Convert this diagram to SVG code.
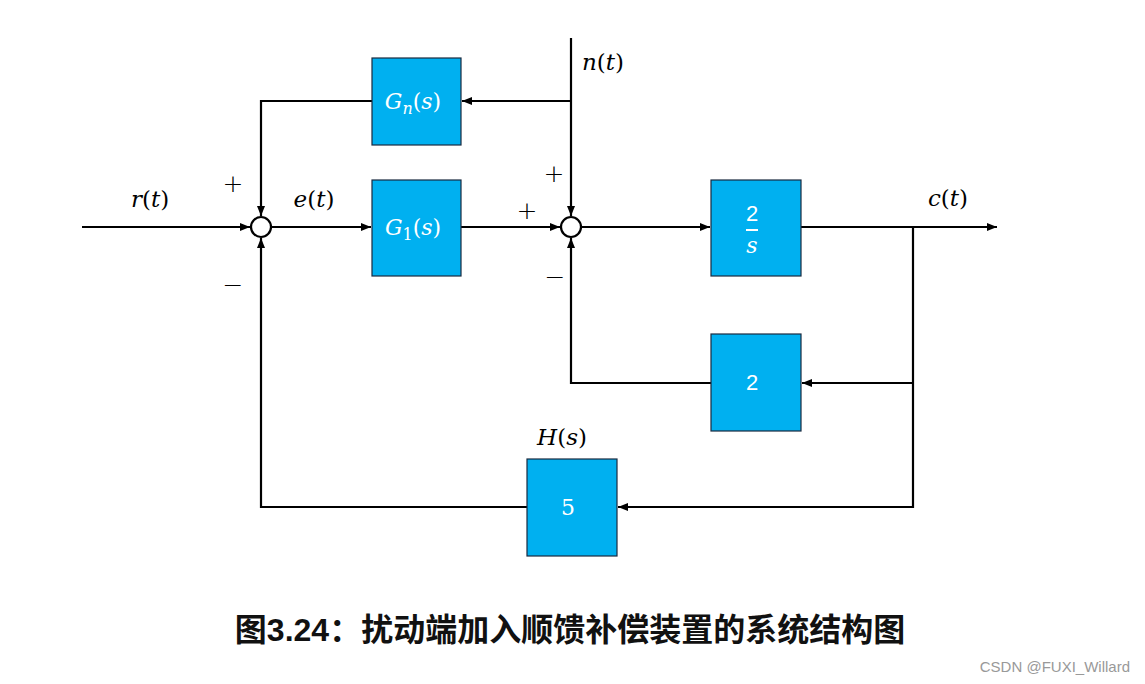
<svg xmlns="http://www.w3.org/2000/svg" width="1145" height="684" viewBox="0 0 1145 684">
<defs>
<marker id="arr" viewBox="0 0 10 10" refX="10" refY="5" markerWidth="10" markerHeight="10" markerUnits="userSpaceOnUse" orient="auto">
<path d="M0,1 L10,5 L0,9 Z" fill="#000"/>
</marker>
<style>
.blk{fill:#00B0F0;stroke:#1a2a40;stroke-width:1.2}
.ln{fill:none;stroke:#000;stroke-width:2.2}
.sum{fill:#fff;stroke:#000;stroke-width:2.2}
.m{font-family:"DejaVu Serif","Liberation Serif",serif;font-style:italic;font-size:23px;fill:#000}
.sg{font-family:"DejaVu Sans","Liberation Sans",sans-serif;font-size:25px;font-weight:300;fill:#000}
.w{fill:#fff;font-size:22px}
</style>
</defs>
<rect width="1145" height="684" fill="#fff"/>
<g id="connectors">
<line class="ln" x1="82" y1="227" x2="250" y2="227" marker-end="url(#arr)"/>
<line class="ln" x1="272" y1="227" x2="371" y2="227" marker-end="url(#arr)"/>
<line class="ln" x1="461" y1="227" x2="560" y2="227" marker-end="url(#arr)"/>
<line class="ln" x1="582" y1="227" x2="710" y2="227" marker-end="url(#arr)"/>
<line class="ln" x1="801" y1="227" x2="997" y2="227" marker-end="url(#arr)"/>
<polyline class="ln" points="571,38 571,216" marker-end="url(#arr)"/>
<line class="ln" x1="571" y1="101" x2="462" y2="101" marker-end="url(#arr)"/>
<polyline class="ln" points="372,101 261,101 261,216" marker-end="url(#arr)"/>
<polyline class="ln" points="913,227 913,507 618,507" marker-end="url(#arr)"/>
<line class="ln" x1="913" y1="383" x2="802" y2="383" marker-end="url(#arr)"/>
<polyline class="ln" points="711,383 571,383 571,238" marker-end="url(#arr)"/>
<polyline class="ln" points="527,507 261,507 261,238" marker-end="url(#arr)"/>
</g>
<g id="sum1"><circle class="sum" cx="261" cy="227" r="10"/></g>
<g id="sum2"><circle class="sum" cx="571" cy="227" r="10"/></g>
<g id="Gn">
<rect class="blk" x="372" y="58" width="89" height="87"/>
<text class="m w" x="413" y="109" text-anchor="middle">G<tspan font-size="16" dy="5">n</tspan><tspan dy="-5" font-style="normal">(</tspan>s<tspan font-style="normal">)</tspan></text>
</g>
<g id="G1">
<rect class="blk" x="372" y="180" width="89" height="96"/>
<text class="m w" x="413" y="235" text-anchor="middle">G<tspan font-size="16" dy="5" font-style="normal">1</tspan><tspan dy="-5" font-style="normal">(</tspan>s<tspan font-style="normal">)</tspan></text>
</g>
<g id="P">
<rect class="blk" x="711" y="180" width="90" height="96"/>
<text x="752" y="221" text-anchor="middle" font-family="Liberation Sans,sans-serif" font-size="22" fill="#fff">2</text>
<line x1="746" y1="230" x2="758" y2="230" stroke="#fff" stroke-width="2"/>
<text class="m w" x="752" y="253" text-anchor="middle">s</text>
</g>
<g id="K2">
<rect class="blk" x="711" y="334" width="90" height="97"/>
<text x="752" y="390" text-anchor="middle" font-family="Liberation Sans,sans-serif" font-size="22" fill="#fff">2</text>
</g>
<g id="H">
<rect class="blk" x="527" y="459" width="90" height="97"/>
<text x="568" y="515" text-anchor="middle" font-family="DejaVu Serif,Liberation Serif,serif" font-size="22" fill="#fff">5</text>
</g>
<g id="labels">
<text class="m" x="150" y="207" text-anchor="middle">r<tspan font-style="normal">(</tspan>t<tspan font-style="normal">)</tspan></text>
<text class="m" x="314" y="207" text-anchor="middle">e<tspan font-style="normal">(</tspan>t<tspan font-style="normal">)</tspan></text>
<text class="m" x="603" y="70" text-anchor="middle">n<tspan font-style="normal">(</tspan>t<tspan font-style="normal">)</tspan></text>
<text class="m" x="948" y="206" text-anchor="middle">c<tspan font-style="normal">(</tspan>t<tspan font-style="normal">)</tspan></text>
<text class="m" x="562" y="445" text-anchor="middle">H<tspan font-style="normal">(</tspan>s<tspan font-style="normal">)</tspan></text>
<text class="sg" x="233" y="192" text-anchor="middle">+</text>
<text class="sg" x="233" y="293" text-anchor="middle">−</text>
<text class="sg" x="527" y="219" text-anchor="middle">+</text>
<text class="sg" x="554" y="182" text-anchor="middle">+</text>
<text class="sg" x="555" y="285" text-anchor="middle">−</text>
</g>
<text x="570" y="641" text-anchor="middle" font-family="Liberation Sans,'Noto Sans CJK SC',sans-serif" font-size="32" font-weight="bold" fill="#111">图3.24：扰动端加入顺馈补偿装置的系统结构图</text>
<text x="1130" y="672" text-anchor="end" font-family="Liberation Sans,sans-serif" font-size="15" fill="#999">CSDN @FUXI_Willard</text>
</svg>
